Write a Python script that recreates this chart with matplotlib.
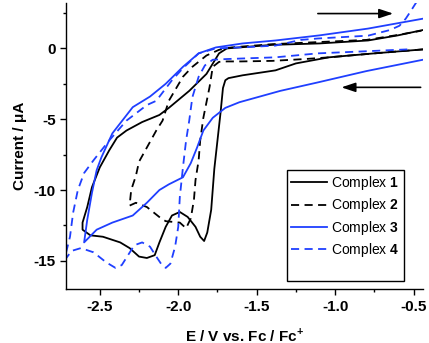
import matplotlib
matplotlib.use("Agg")
import matplotlib.pyplot as plt
from matplotlib.lines import Line2D
from matplotlib.ticker import MultipleLocator

plt.rcParams['font.family'] = ['Liberation Sans', 'DejaVu Sans']
plt.rcParams['mathtext.fontset'] = 'custom'
plt.rcParams['mathtext.rm'] = 'Liberation Sans'
plt.rcParams['mathtext.bf'] = 'Liberation Sans:bold'
plt.rcParams['axes.unicode_minus'] = False

# CV traces (E / V vs Fc/Fc+, current / uA), in scan order
e1 = [-0.44, -0.75, -1.04, -1.25, -1.38, -1.59, -1.68, -1.70, -1.715, -1.73, -1.75, -1.77,
      -1.79, -1.815, -1.835, -1.86, -1.89, -1.94, -1.99, -2.04, -2.08, -2.12, -2.15, -2.20,
      -2.25, -2.31, -2.37, -2.48, -2.56, -2.61, -2.61, -2.58, -2.55, -2.50, -2.44, -2.39,
      -2.33, -2.23, -2.12, -2.06, -1.93, -1.82, -1.74, -1.69, -1.40, -1.10, -0.79, -0.60, -0.44]
i1 = [-0.07, -0.35, -0.63, -1.06, -1.55, -1.9, -2.1, -2.25, -2.8, -4.5, -6.5, -8.5,
      -11.4, -13.0, -13.6, -13.3, -12.6, -11.9, -11.55, -11.8, -12.6, -13.7, -14.6, -14.8,
      -14.7, -14.1, -13.7, -13.3, -13.2, -12.8, -12.3, -11.2, -9.8, -8.4, -7.2, -6.3,
      -5.8, -5.2, -4.7, -4.2, -3.0, -1.8, -0.35, 0.0, 0.25, 0.35, 0.56, 0.92, 1.3]

e2 = [-0.44, -0.75, -1.04, -1.19, -1.40, -1.60, -1.69, -1.74, -1.78, -1.80, -1.84, -1.86,
      -1.87, -1.89, -1.90, -1.92, -1.95, -1.99, -2.08, -2.11, -2.20, -2.27, -2.31, -2.30,
      -2.27, -2.25, -2.20, -2.14, -2.10, -2.06, -1.97, -1.91, -1.82, -1.74, -1.66, -1.40,
      -1.10, -0.80, -0.60, -0.45]
i2 = [-0.07, -0.35, -0.63, -0.75, -0.88, -0.92, -0.92, -0.95, -1.3, -2.7, -4.9, -6.5,
      -7.9, -9.3, -10.7, -12.0, -12.7, -12.3, -12.2, -12.0, -11.2, -10.9, -11.1, -10.0,
      -9.0, -8.0, -7.0, -5.8, -5.1, -3.7, -2.0, -1.3, -0.5, -0.1, 0.07, 0.3,
      0.45, 0.6, 0.95, 1.25]

e3 = [-0.44, -0.80, -1.11, -1.35, -1.61, -1.70, -1.78, -1.84, -1.88, -1.92, -1.97, -2.06,
      -2.12, -2.20, -2.29, -2.42, -2.52, -2.60, -2.58, -2.55, -2.52, -2.49, -2.42, -2.29,
      -2.18, -2.08, -1.97, -1.87, -1.76, -1.59, -1.38, -1.10, -0.79, -0.44]
i3 = [-0.8, -1.6, -2.4, -3.0, -3.8, -4.2, -4.9, -5.8, -7.0, -8.1, -9.1, -9.6,
      -10.0, -10.9, -11.8, -12.3, -12.8, -13.7, -12.1, -10.2, -8.6, -7.7, -6.0, -4.15,
      -3.4, -2.5, -1.3, -0.35, 0.07, 0.35, 0.56, 0.92, 1.4, 2.1]

e4 = [-0.54, -0.80, -1.11, -1.38, -1.69, -1.78, -1.83, -1.87, -1.91, -1.93, -1.95, -1.97,
      -1.99, -2.00, -2.02, -2.05, -2.08, -2.11, -2.14, -2.18, -2.23, -2.28, -2.32, -2.36,
      -2.40, -2.46, -2.54, -2.62, -2.68, -2.72, -2.75, -2.71, -2.69, -2.67, -2.64, -2.60,
      -2.54, -2.44, -2.33, -2.20, -2.14, -2.04, -1.97, -1.87, -1.76, -1.55, -1.38, -1.22,
      -1.11, -0.79, -0.65, -0.59, -0.55, -0.52, -0.48]
i4 = [-0.07, -0.2, -0.35, -0.63, -0.75, -0.8, -1.2, -2.0, -3.45, -5.1, -6.5, -8.4,
      -10.5, -12.6, -14.0, -15.2, -15.5, -15.2, -14.7, -14.0, -13.7, -13.9, -14.6, -15.3,
      -15.5, -15.1, -14.4, -14.1, -14.3, -14.9, -15.8, -14.2, -13.3, -11.6, -10.0, -8.8,
      -7.9, -6.5, -5.1, -4.0, -3.7, -2.25, -1.4, -0.35, 0.0, 0.1, 0.2, 0.6,
      0.7, 0.9, 1.3, 1.6, 2.1, 2.6, 3.3]

labels = ['Complex $\\mathbf{1}$', 'Complex $\\mathbf{2}$',
          'Complex $\\mathbf{3}$', 'Complex $\\mathbf{4}$']

BLACK = 'black'
BLUE = '#1f3fff'
DASH = (4.5, 3)
LW = 1.3

fig = plt.figure(figsize=(4.29, 3.43), dpi=100)
ax = fig.add_axes([0.154, 0.157, 0.832, 0.834])

ax.plot(e1, i1, color=BLACK, lw=LW, label=labels[0])
ax.plot(e2, i2, color=BLACK, lw=LW, dashes=DASH, label=labels[1])
ax.plot(e3, i3, color=BLUE, lw=LW, label=labels[2])
ax.plot(e4, i4, color=BLUE, lw=LW, dashes=DASH, label=labels[3])

# scan direction arrows
arrow = dict(arrowstyle='-|>,head_length=0.6,head_width=0.2', color='black',
             lw=1.2, mutation_scale=14, shrinkA=0, shrinkB=0)
ax.annotate('', xy=(-0.63, 2.46), xytext=(-1.11, 2.46), arrowprops=arrow)
ax.annotate('', xy=(-0.96, -2.75), xytext=(-0.455, -2.75), arrowprops=arrow)

ax.set_xlim(-2.715, -0.44)
ax.set_ylim(-17, 3.2)
ax.xaxis.set_major_locator(MultipleLocator(0.5))
ax.xaxis.set_minor_locator(MultipleLocator(0.25))
ax.yaxis.set_major_locator(MultipleLocator(5))
ax.yaxis.set_minor_locator(MultipleLocator(2.5))

for side in ['top', 'right']:
    ax.spines[side].set_visible(False)
for side in ['left', 'bottom']:
    ax.spines[side].set_linewidth(1.0)

ax.tick_params(which='major', direction='out', length=4, width=1, labelsize=11)
ax.tick_params(which='minor', direction='out', length=2.5, width=1)
for lab in ax.get_xticklabels() + ax.get_yticklabels():
    lab.set_fontweight('bold')

ax.set_xlabel('E / V vs. Fc / Fc$^{\\mathbf{+}}$', fontsize=11, fontweight='bold', labelpad=9)
ax.set_ylabel('Current / \u03bcA', fontsize=11, fontweight='bold', labelpad=5)

handles, labs = ax.get_legend_handles_labels()
handles.append(Line2D([], [], linestyle='none'))
labs.append(' ')
leg = ax.legend(handles, labs, loc='upper left', bbox_to_anchor=(0.619, 0.416),
                fontsize=10, frameon=True, fancybox=False, framealpha=1,
                edgecolor='black', handlelength=2.6, handletextpad=0.3,
                labelspacing=0.3, borderpad=0.3, borderaxespad=0)
leg.get_frame().set_linewidth(1.0)

fig.savefig('out.png', dpi=100)
